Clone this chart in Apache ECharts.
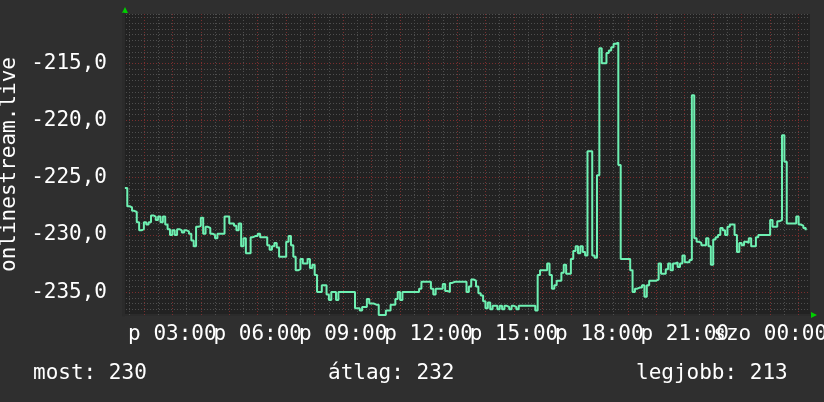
<!DOCTYPE html>
<html>
<head>
<meta charset="utf-8">
<script src="https://cdn.jsdelivr.net/npm/echarts@6/dist/echarts.min.js"></script>
<style>
html,body{margin:0;padding:0;background:#2f2f2f;}
#c{width:824px;height:402px;}
</style>
</head>
<body>
<div id="c"></div>
<script>
// sample times: minutes since Friday 00:00, 5-minute RRD steps
const START_MIN = 80;
const STEP_MIN = 5;
const values = [
-225.9,-227.5,-227.6,-227.9,-228.0,-228.9,-229.6,-229.5,-228.9,-229.1,-228.9,-228.3,
-228.4,-228.7,-228.4,-228.9,-228.4,-229.1,-229.5,-230.0,-229.6,-230.0,-229.5,-229.6,
-229.8,-229.6,-229.7,-229.9,-230.5,-231.0,-229.3,-229.2,-228.5,-229.9,-229.3,-229.4,
-229.9,-230.0,-230.3,-229.9,-229.9,-229.9,-228.4,-228.4,-229.0,-229.0,-229.2,-229.6,
-229.0,-231.0,-230.3,-231.6,-231.6,-230.2,-230.1,-230.1,-229.9,-230.2,-230.2,-230.2,
-230.9,-231.3,-231.0,-230.7,-231.1,-231.9,-231.9,-231.9,-230.6,-230.1,-230.9,-231.9,
-233.1,-233.0,-232.1,-232.5,-232.5,-232.1,-232.9,-232.6,-233.5,-235.0,-235.0,-234.4,
-234.4,-235.2,-235.7,-235.0,-235.0,-235.7,-235.0,-235.0,-235.0,-235.0,-235.0,-235.0,
-235.0,-236.4,-236.4,-236.6,-236.3,-236.3,-235.6,-236.0,-236.0,-236.1,-236.1,-237.0,
-237.0,-237.0,-236.6,-236.6,-236.1,-236.1,-235.6,-235.0,-235.7,-235.0,-235.0,-235.0,
-235.0,-235.0,-235.0,-235.0,-234.7,-234.1,-234.1,-234.1,-234.1,-234.7,-235.2,-234.7,
-234.7,-234.7,-234.3,-234.9,-235.0,-234.2,-234.1,-234.1,-234.1,-234.1,-234.1,-234.1,
-235.0,-234.5,-233.9,-234.0,-234.5,-235.1,-235.3,-235.8,-236.4,-235.9,-236.5,-236.2,
-236.2,-236.5,-236.2,-236.5,-236.2,-236.3,-236.5,-236.2,-236.3,-236.5,-236.2,-236.2,
-236.2,-236.2,-236.2,-236.2,-236.2,-236.6,-233.5,-233.1,-233.1,-233.1,-232.5,-233.5,
-234.7,-234.4,-234.0,-234.0,-233.3,-232.6,-233.4,-233.4,-232.1,-231.4,-231.0,-231.6,
-231.0,-231.5,-231.8,-222.7,-222.7,-231.8,-232.0,-224.8,-213.7,-215.0,-215.0,-214.1,
-213.9,-213.6,-213.3,-213.2,-223.9,-232.1,-232.1,-232.1,-232.1,-233.1,-235.0,-234.7,
-234.6,-234.6,-234.4,-235.4,-234.4,-234.0,-234.0,-234.0,-233.9,-232.5,-233.4,-233.4,
-233.0,-232.5,-233.1,-232.5,-232.4,-232.8,-232.5,-231.8,-232.4,-232.4,-232.2,-217.8,
-230.3,-230.6,-230.7,-230.9,-230.9,-230.3,-231.0,-232.6,-230.4,-230.2,-230.0,-229.4,
-229.6,-230.0,-229.3,-229.1,-229.1,-230.0,-231.5,-230.7,-230.9,-230.6,-230.7,-230.3,
-231.0,-231.0,-230.2,-230.0,-230.0,-230.0,-230.0,-230.0,-228.7,-229.3,-229.3,-228.8,
-228.7,-221.3,-223.6,-229.0,-229.0,-229.0,-229.0,-228.4,-229.1,-229.2,-229.4,-229.6
];
// x-axis label positions (minutes) and texts
const tickMinutes = [180, 360, 540, 720, 900, 1080, 1260, 1440];
const tickLabels = ['p 03:00','p 06:00','p 09:00','p 12:00','p 15:00','p 18:00','p 21:00','szo 00:00'];
const hourLines = [120,180,240,300,360,420,480,540,600,660,720,780,840,900,960,1020,1080,1140,1200,1260,1320,1380,1440,1500];
const halfLines = [90,150,210,270,330,390,450,510,570,630,690,750,810,870,930,990,1050,1110,1170,1230,1290,1350,1410,1470];
const yAxisName = 'onlinestream.live';
const legendItems = [['most:', '230'], ['átlag:', '232'], ['legjobb:', '213']];

const X_MIN = 76, X_MAX = 1524;
const Y_MIN = -237, Y_MAX = -210.7;

const seriesData = values.map((v, i) => [START_MIN + STEP_MIN * i, v]);

const FONT = '"DejaVu Sans Mono", monospace';
const FS = 21;
const RED = '#7a2e2e';
const GREY = '#4e4e4e';
const yColors = [GREY, GREY, GREY, GREY, RED, GREY, GREY, GREY, GREY, GREY];

const markData = [];
halfLines.forEach(v => markData.push({xAxis: v, lineStyle: {color: GREY, type: [1, 2], width: 1}}));
hourLines.forEach(v => markData.push({xAxis: v, lineStyle: {color: RED, type: [1, 2], width: 1}}));

// split labels over two coinciding bottom axes so overlapping neighbours are all kept
const evenTicks = tickMinutes.filter((_, k) => k % 2 === 0);
const oddTicks = tickMinutes.filter((_, k) => k % 2 === 1);
function xAxisFor(ticks) {
  return {
    type: 'value', min: X_MIN, max: X_MAX, position: 'bottom', offset: 0,
    splitLine: {show: false},
    axisTick: {show: false},
    axisLine: {show: true, lineStyle: {color: '#2b2b2b', width: 2}},
    axisLabel: {
      customValues: ticks,
      showMinLabel: true, showMaxLabel: true, hideOverlap: false,
      color: '#ffffff', fontFamily: FONT, fontSize: FS, margin: 9,
      formatter: v => { const k = tickMinutes.indexOf(v); return k >= 0 ? tickLabels[k] : ''; }
    }
  };
}

const chart = echarts.init(document.getElementById('c'), null, {renderer: 'canvas'});
const legendX = [33, 328, 636];
chart.setOption({
  backgroundColor: '#2f2f2f',
  animation: false,
  grid: {
    left: 123, top: 14, width: 687, height: 301,
    show: true, backgroundColor: '#222222', borderWidth: 0,
    containLabel: false, outerBoundsMode: 'none'
  },
  xAxis: [xAxisFor(evenTicks), xAxisFor(oddTicks)],
  yAxis: {
    type: 'value', min: Y_MIN, max: Y_MAX, interval: 0.5,
    name: yAxisName, nameLocation: 'middle', nameRotate: 90, nameGap: 101,
    nameTextStyle: {color: '#ffffff', fontFamily: FONT, fontSize: FS},
    axisLine: {show: true, lineStyle: {color: '#2b2b2b', width: 3}},
    axisTick: {show: false},
    splitLine: {show: true, lineStyle: {color: yColors, type: [1, 2], width: 1}},
    axisLabel: {
      color: '#ffffff', fontFamily: FONT, fontSize: FS, margin: 16,
      formatter: v => (Math.abs(v % 5) < 1e-9 ? v.toFixed(1).replace('.', ',') : '')
    }
  },
  series: [
    {
      type: 'line', data: [], silent: true, z: 1, xAxisIndex: 0,
      markLine: {silent: true, z: 1, symbol: ['none', 'none'], label: {show: false}, animation: false, data: markData}
    },
    {
      type: 'line', data: seriesData, step: 'end', showSymbol: false, symbol: 'none', z: 10, xAxisIndex: 0,
      lineStyle: {color: '#6ef0b2', width: 2}, silent: true
    }
  ],
  graphic: [
    {type: 'polygon', shape: {points: [[122, 13], [128, 13], [125, 7]]}, style: {fill: '#00d000'}},
    {type: 'polygon', shape: {points: [[811, 312], [811, 318], [817, 315]]}, style: {fill: '#00d000'}}
  ].concat(legendItems.map((it, k) => ({
    type: 'text', x: legendX[k], y: 374,
    style: {text: it[0] + ' ' + it[1], fill: '#ffffff', font: FS + 'px ' + FONT, verticalAlign: 'middle'}
  })))
});
</script>
</body>
</html>
